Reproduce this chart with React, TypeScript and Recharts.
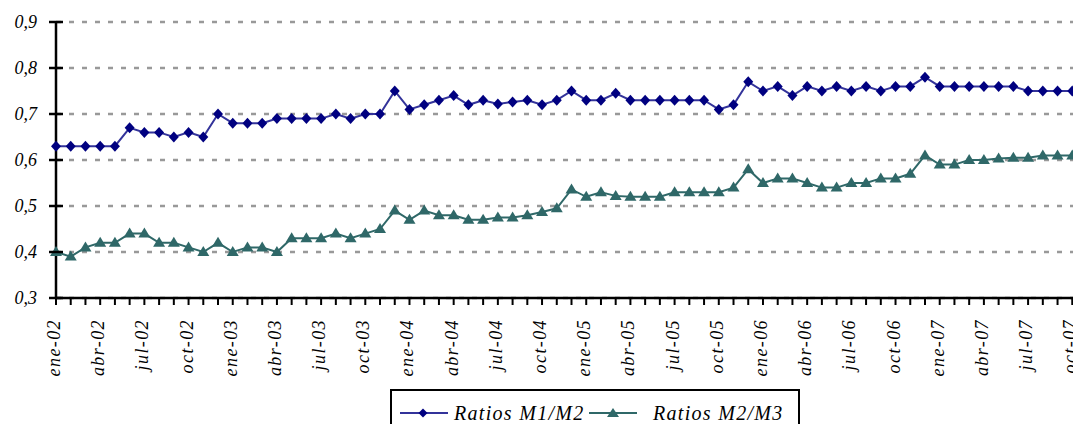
import React from 'react';
import { LineChart, Line, XAxis, YAxis, CartesianGrid, Legend } from 'recharts';

const MESES = ['ene', 'feb', 'mar', 'abr', 'may', 'jun', 'jul', 'ago', 'sep', 'oct', 'nov', 'dic'];
const ANIOS = ['02', '03', '04', '05', '06', '07'];

// ene-02 ... nov-07 (the last point sits just past the cropped right edge)
const periodos = ANIOS.flatMap(a => MESES.map(m => `${m}-${a}`)).slice(0, 71);

const ratioM1M2 = [
  0.63, 0.63, 0.63, 0.63, 0.63, 0.67, 0.66, 0.66, 0.65, 0.66, 0.65,
  0.70, 0.68, 0.68, 0.68, 0.69, 0.69, 0.69, 0.69, 0.70, 0.69,
  0.70, 0.70, 0.75, 0.71, 0.72, 0.73, 0.74, 0.72, 0.73, 0.722,
  0.726, 0.73, 0.72, 0.73, 0.75, 0.73, 0.73, 0.745, 0.73, 0.73,
  0.73, 0.73, 0.73, 0.73, 0.71, 0.72, 0.77, 0.75, 0.76, 0.74,
  0.76, 0.75, 0.76, 0.75, 0.76, 0.75, 0.76, 0.76, 0.78, 0.76,
  0.76, 0.76, 0.76, 0.76, 0.76, 0.75, 0.75, 0.75, 0.75, 0.76,
];

const ratioM2M3 = [
  0.40, 0.39, 0.41, 0.42, 0.42, 0.44, 0.44, 0.42, 0.42, 0.41, 0.40,
  0.42, 0.40, 0.41, 0.41, 0.40, 0.43, 0.43, 0.43, 0.44, 0.43,
  0.44, 0.45, 0.49, 0.47, 0.49, 0.48, 0.48, 0.47, 0.47, 0.475,
  0.475, 0.48, 0.487, 0.495, 0.536, 0.52, 0.53, 0.522, 0.52, 0.52,
  0.52, 0.53, 0.53, 0.53, 0.53, 0.54, 0.58, 0.55, 0.56, 0.56,
  0.55, 0.54, 0.54, 0.55, 0.55, 0.56, 0.56, 0.57, 0.61, 0.59,
  0.59, 0.60, 0.60, 0.603, 0.605, 0.605, 0.61, 0.61, 0.61, 0.615,
];

const yTicks = [0.3, 0.4, 0.5, 0.6, 0.7, 0.8, 0.9];

const data = periodos.map((p, i) => ({ p, m1: ratioM1M2[i], m2: ratioM2M3[i] }));

const FONT = "'Liberation Serif', 'Times New Roman', serif";
const NAVY = '#000080';
const NAVY_LINE = '#33339a';
const TEAL = '#2f6868';
const PLOT_LEFT = 56;

const Diamond = (props: any) => {
  const { cx, cy, index } = props;
  if (cx == null || cy == null) return null;
  return (
    <polygon
      key={`d-${index}`}
      points={`${cx},${cy - 5.5} ${cx + 5},${cy} ${cx},${cy + 5.5} ${cx - 5},${cy}`}
      fill={NAVY}
    />
  );
};

const Triangle = (props: any) => {
  const { cx, cy, index } = props;
  if (cx == null || cy == null) return null;
  return (
    <polygon
      key={`t-${index}`}
      points={`${cx},${cy - 6} ${cx + 6},${cy + 4} ${cx - 6},${cy + 4}`}
      fill={TEAL}
    />
  );
};

const XTick = (props: any) => {
  const { x, payload } = props;
  const i = periodos.indexOf(payload.value);
  if (i % 3 !== 0) return null;
  return (
    <text
      transform={`translate(${x + 4},319) rotate(-90)`}
      textAnchor="end"
      style={{ fontFamily: FONT, fontStyle: 'italic', fontSize: 18, letterSpacing: 1.4 }}
      fill="#000"
    >
      {payload.value}
    </text>
  );
};

const YTick = (props: any) => {
  const { y, payload } = props;
  return (
    <g>
      <line x1={PLOT_LEFT - 7} x2={PLOT_LEFT + 7} y1={y} y2={y} stroke="#000" strokeWidth={2.5} />
      <text
        x={37}
        y={y}
        dy="0.35em"
        textAnchor="end"
        style={{ fontFamily: FONT, fontStyle: 'italic', fontSize: 18 }}
        fill="#000"
      >
        {payload.value.toFixed(1).replace('.', ',')}
      </text>
    </g>
  );
};

const LegendBox = () => {
  const label: React.CSSProperties = {
    position: 'absolute',
    top: 9,
    fontFamily: FONT,
    fontStyle: 'italic',
    fontSize: 20,
    letterSpacing: 1.3,
    lineHeight: '26px',
    whiteSpace: 'nowrap',
    color: '#000',
  };
  return (
    <div style={{ position: 'relative', width: 406, height: 70, border: '2px solid #000', background: '#fff' }}>
      <svg style={{ position: 'absolute', left: 0, top: 0 }} width={406} height={60}>
        <line x1={8} x2={56} y1={22} y2={22} stroke={NAVY_LINE} strokeWidth={2} />
        <polygon points="31,17.5 35.5,22 31,26.5 26.5,22" fill={NAVY} />
        <line x1={197} x2={245} y1={22} y2={22} stroke={TEAL} strokeWidth={2} />
        <polygon points="221,17 227,26 215,26" fill={TEAL} />
      </svg>
      <span style={{ ...label, left: 62 }}>Ratios M1/M2</span>
      <span style={{ ...label, left: 261 }}>Ratios M2/M3</span>
    </div>
  );
};

export default function App() {
  return (
    <div style={{ margin: -8, width: 1081, height: 432, overflow: 'hidden', position: 'relative', background: '#fff' }}>
      <LineChart
        width={1110}
        height={432}
        data={data}
        margin={{ top: 22, right: 23, left: 0, bottom: 34 }}
      >
        <CartesianGrid vertical={false} stroke="#999" strokeWidth={2.5} strokeDasharray="5 8" />
        <XAxis
          dataKey="p"
          interval={0}
          height={100}
          tickSize={7}
          tickLine={{ stroke: '#000', strokeWidth: 2 }}
          axisLine={{ stroke: '#000', strokeWidth: 2.5 }}
          tick={<XTick />}
        />
        <YAxis
          width={PLOT_LEFT}
          domain={[0.3, 0.9]}
          ticks={yTicks}
          tickLine={false}
          axisLine={{ stroke: '#000', strokeWidth: 2.5 }}
          tick={<YTick />}
        />
        <Legend
          layout="vertical"
          align="center"
          verticalAlign="middle"
          wrapperStyle={{ left: 390, top: 389, width: 410 }}
          content={<LegendBox />}
        />
        <Line
          dataKey="m1"
          stroke={NAVY_LINE}
          strokeWidth={2}
          dot={Diamond}
          activeDot={false}
          isAnimationActive={false}
        />
        <Line
          dataKey="m2"
          stroke={TEAL}
          strokeWidth={2}
          dot={Triangle}
          activeDot={false}
          isAnimationActive={false}
        />
      </LineChart>
    </div>
  );
}
